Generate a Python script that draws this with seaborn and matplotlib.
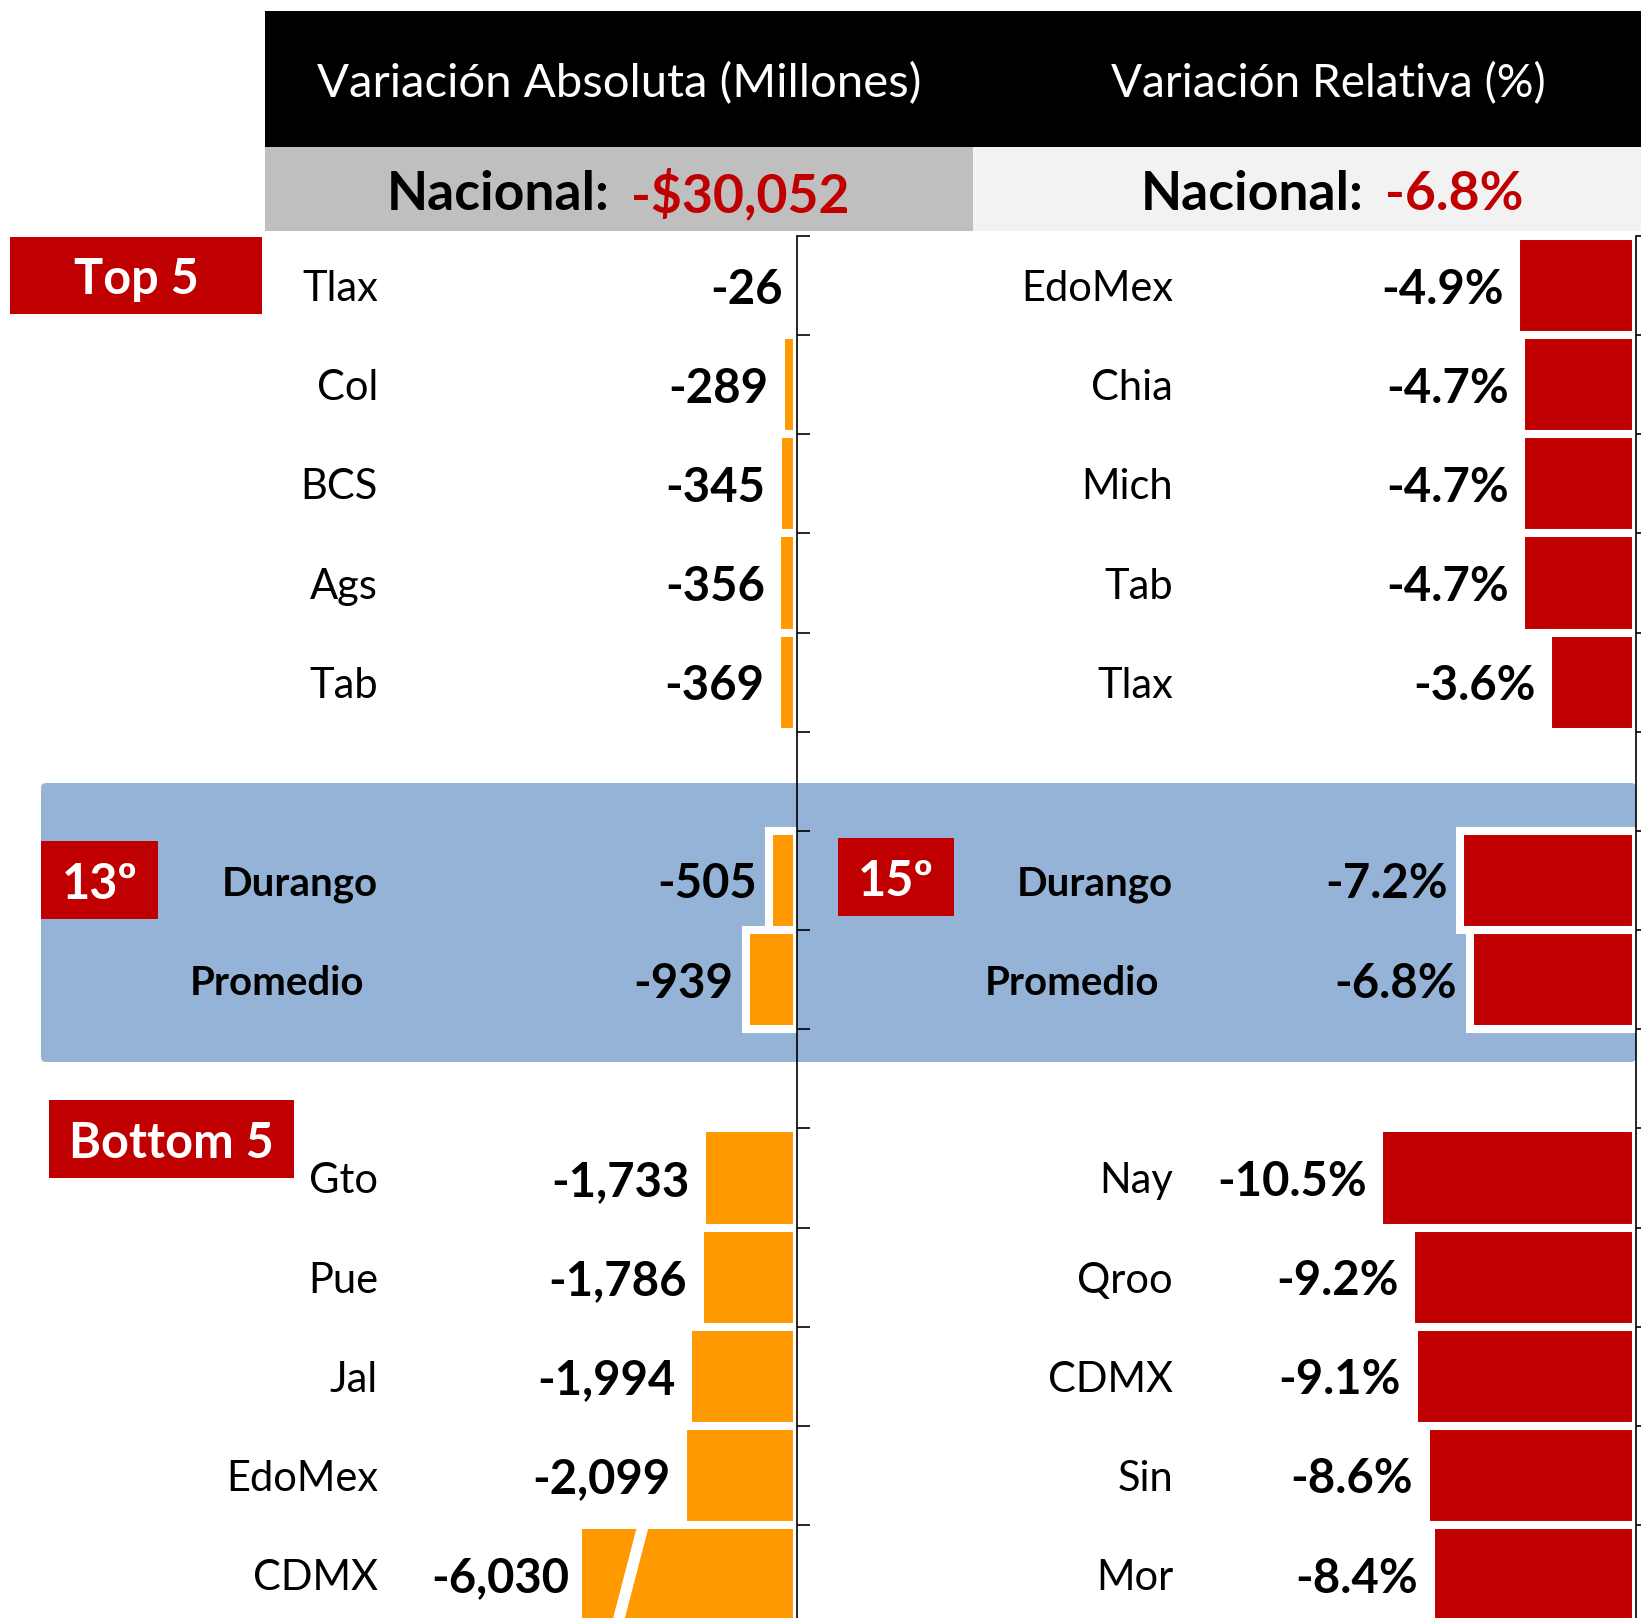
import numpy as np
import pandas as pd
import matplotlib
matplotlib.use("Agg")
import matplotlib.pyplot as plt
import matplotlib.transforms as mtransforms
from matplotlib.patches import Rectangle, FancyBboxPatch
import seaborn as sns

sns.set_style("white")
plt.rcParams["font.family"] = ["Lato", "DejaVu Sans"]
plt.rcParams["text.color"] = "black"

# ---- data ----
top_abs_states = ["Tlax", "Col", "BCS", "Ags", "Tab"]
top_abs_values = [-26, -289, -345, -356, -369]
mid_abs_states = ["Durango", "Promedio"]
mid_abs_values = [-505, -939]
bottom_abs_states = ["Gto", "Pue", "Jal", "EdoMex", "CDMX"]
bottom_abs_values = [-1733, -1786, -1994, -2099, -6030]

top_rel_states = ["EdoMex", "Chia", "Mich", "Tab", "Tlax"]
top_rel_values = [-4.9, -4.7, -4.7, -4.7, -3.6]
mid_rel_states = ["Durango", "Promedio"]
mid_rel_values = [-7.2, -6.8]
bottom_rel_states = ["Nay", "Qroo", "CDMX", "Sin", "Mor"]
bottom_rel_values = [-10.5, -9.2, -9.1, -8.6, -8.4]

nacional_abs = -30052
nacional_rel = -6.8
rank_abs = 13
rank_rel = 15

# ---- style ----
ORANGE = "#FF9900"
RED = "#C00000"
BLUE = "#95B3D7"
GREY = "#BFBFBF"
LIGHT = "#F2F2F2"

W, H = 1641, 1618
AX_TOP = 236          # px from top where the category axis starts
BAND = 99.15          # px per category band
ABS_MIN = -3950       # axis cut for the absolute panel (CDMX bar is broken)
REL_MIN = -14
BREAK_AT = -2820      # where the break mark crosses the CDMX bar


def fmt_abs(v):
    return f"{v:,.0f}"


def fmt_rel(v):
    return f"{v:.1f}%"


fig = plt.figure(figsize=(W / 100, H / 100), dpi=100)

# background axes in pixel units for the header and the boxes
bg = fig.add_axes([0, 0, 1, 1])
bg.set_xlim(0, W)
bg.set_ylim(H, 0)
bg.axis("off")
bg.set_zorder(0)

bg.add_patch(Rectangle((265, 11), W - 265, 136, color="black", lw=0))
bg.add_patch(Rectangle((265, 147), 973 - 265, 84, color=GREY, lw=0))
bg.add_patch(Rectangle((973, 147), W - 973, 84, color=LIGHT, lw=0))
bg.text(619, 80, "Variación Absoluta (Millones)", color="white", fontsize=34,
        ha="center", va="center_baseline")
bg.text(1328, 80, "Variación Relativa (%)", color="white", fontsize=33,
        ha="center", va="center_baseline")
bg.text(610, 190, "Nacional:", fontsize=38.5, fontweight="bold",
        ha="right", va="center_baseline")
bg.text(631, 190, f"-${abs(nacional_abs):,}", fontsize=38.5, fontweight="bold",
        color=RED, ha="left", va="center_baseline")
bg.text(1364, 190, "Nacional:", fontsize=38.5, fontweight="bold",
        ha="right", va="center_baseline")
bg.text(1385, 190, fmt_rel(nacional_rel), fontsize=38.5, fontweight="bold",
        color=RED, ha="left", va="center_baseline")

# highlight band for Durango / Promedio
bg.add_patch(FancyBboxPatch((41, 783), 1636 - 41, 279,
                            boxstyle="round,pad=0,rounding_size=5",
                            color=BLUE, lw=0))

# red tags
for (x, y, w, h, label) in [(10, 237, 252, 77, "Top 5"),
                            (49, 1100, 245, 78, "Bottom 5"),
                            (41, 841, 117, 78, f"{rank_abs}º"),
                            (838, 838, 116, 78, f"{rank_rel}º")]:
    bg.add_patch(Rectangle((x, y), w, h, color=RED, lw=0))
    bg.text(x + w / 2, y + h / 2, label, color="white", fontsize=35,
            fontweight="bold", ha="center", va="center_baseline")


def panel(x0, x1):
    n = 14
    ax = fig.add_axes([x0 / W, (H - AX_TOP - n * BAND) / H,
                       (x1 - x0) / W, n * BAND / H])
    ax.set_zorder(1)
    ax.set_facecolor("none")
    return ax


def draw_panel(ax, groups, color, xmin, fmt, name_x):
    order = []
    states, values = [], []
    for k, (s, v) in enumerate(groups):
        if k > 0:
            order.append(f"_gap{k}")
        order += s
        states += s
        values += v
    df = pd.DataFrame({"estado": states, "valor": values})
    sns.barplot(data=df, x="valor", y="estado", order=order, orient="h",
                color=color, saturation=1, width=1.0, edgecolor="white",
                linewidth=5.8, errorbar=None, ax=ax)
    ax.set_xlim(xmin, 0)
    ax.set_ylim(len(order) - 0.5, -0.5)
    for s in ["left", "top", "bottom"]:
        ax.spines[s].set_visible(False)
    ax.spines["right"].set_color("black")
    ax.spines["right"].set_linewidth(1.2)
    ax.yaxis.tick_right()
    ax.set_yticks(np.arange(len(order) + 1) - 0.5)
    ax.set_yticklabels([])
    ax.tick_params(axis="y", direction="out", length=9.5, width=1.2,
                   color="black", right=True, left=False)
    ax.set_xticks([])
    ax.set_xlabel("")
    ax.set_ylabel("")

    mid = groups[1][0]
    trans = mtransforms.blended_transform_factory(bg.transData, ax.transData)
    for s, v in zip(states, values):
        i = order.index(s)
        bold = s in mid
        nx = name_x - 14 if s == "Promedio" else name_x
        ax.text(nx, i, s, transform=trans, ha="right", va="center_baseline",
                fontsize=29 if bold else 30,
                fontweight="bold" if bold else "normal")
        ax.annotate(fmt(v), xy=(max(v, xmin), i), xytext=(-9, 0),
                    textcoords="offset points", ha="right",
                    va="center_baseline", fontsize=34, fontweight="bold",
                    annotation_clip=False)
    return order


ax_abs = panel(796.7 + ABS_MIN * 0.0544, 796.7)
order_abs = draw_panel(ax_abs,
                       [(top_abs_states, top_abs_values),
                        (mid_abs_states, mid_abs_values),
                        (bottom_abs_states, bottom_abs_values)],
                       ORANGE, ABS_MIN, fmt_abs, 378)

# break mark on the truncated CDMX bar
i_cdmx = order_abs.index("CDMX")
slant = 0.261 * BAND / 0.0544
ax_abs.plot([BREAK_AT, BREAK_AT - 1.1 * slant], [i_cdmx - 0.5, i_cdmx + 0.6],
            color="white", lw=8.2, solid_capstyle="butt", zorder=3)

ax_rel = panel(1636 + REL_MIN * 24.45, 1636)
draw_panel(ax_rel,
           [(top_rel_states, top_rel_values),
            (mid_rel_states, mid_rel_values),
            (bottom_rel_states, bottom_rel_values)],
           RED, REL_MIN, fmt_rel, 1173)

fig.savefig("out.png", dpi=100)
